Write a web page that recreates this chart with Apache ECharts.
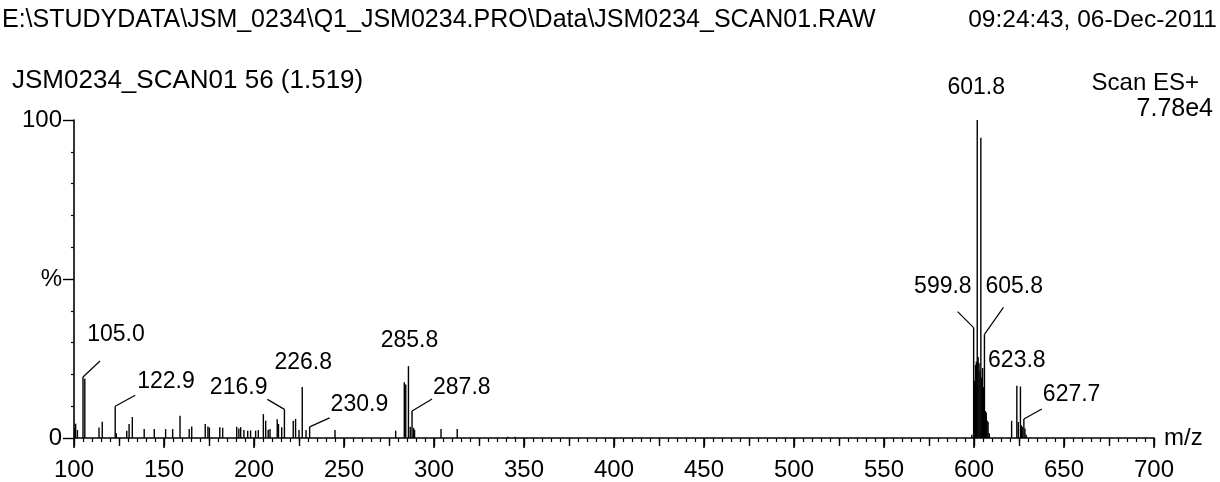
<!DOCTYPE html>
<html>
<head>
<meta charset="utf-8">
<style>
  html, body { margin: 0; padding: 0; background: #fff; }
  #chart { width: 1220px; height: 482px; }
</style>
<script src="https://cdn.jsdelivr.net/npm/echarts@6/dist/echarts.min.js"></script>
</head>
<body>
<div id="chart"></div>
<script>
// ---------- DATA ----------
const headerPath = 'E:\\STUDYDATA\\JSM_0234\\Q1_JSM0234.PRO\\Data\\JSM0234_SCAN01.RAW';
const headerDate = '09:24:43, 06-Dec-2011';
const scanTitle = 'JSM0234_SCAN01 56 (1.519)';
const scanMode = 'Scan ES+';
const scanIntensity = '7.78e4';
const xAxisName = 'm/z';

// m/z values of every stick and their relative intensity (%)
const peakMz = [
  100.4, 100.9, 101.9, 105.0, 106.0, 113.9, 115.7, 122.9, 123.5, 129.3,
  130.6, 132.4, 139.0, 144.6, 150.9, 154.8, 158.9, 164.0, 165.4, 172.9,
  174.4, 175.2, 181.0, 182.6, 190.4, 191.6, 192.6, 194.4, 196.5, 198.1,
  200.9, 202.4, 205.2, 206.5, 207.9, 208.9, 212.9, 213.6, 215.4, 216.9,
  221.8, 223.1, 225.0, 226.8, 228.9, 230.9, 245.0, 278.7, 283.5, 284.3,
  285.8, 286.8, 287.8, 288.6, 289.2, 303.9, 312.9, 341.0, 345.0,
  598.8, 599.8, 600.3, 600.8, 601.3, 601.8, 602.3, 602.8, 603.3, 603.8,
  604.3, 604.8, 605.3, 605.8, 606.3, 606.8, 607.3, 607.8, 608.5,
  620.9, 623.8, 624.6, 625.8, 626.3, 626.8, 627.7, 628.3, 629.0
];
const peakPct = [
  3.0, 4.5, 2.5, 19.2, 18.6, 3.3, 5.1, 10.0, 1.5, 2.3,
  4.4, 6.6, 2.8, 2.8, 2.8, 2.8, 7.0, 2.8, 3.6, 4.4,
  3.6, 3.3, 3.4, 3.2, 3.5, 3.0, 3.4, 2.5, 2.3, 2.4,
  2.3, 2.5, 7.5, 5.4, 2.6, 2.8, 5.9, 4.4, 3.4, 9.0,
  5.4, 6.0, 2.5, 16.0, 2.5, 3.5, 2.5, 2.3, 17.5, 16.8,
  22.6, 3.5, 8.5, 3.2, 2.6, 2.8, 2.8, 0.4, 0.4,
  1.0, 34.7, 18.0, 23.0, 24.0, 100, 25.5, 23.5, 21.0, 94.4,
  19.0, 22.0, 16.0, 32.6, 8.5, 8.0, 5.5, 5.0, 1.5,
  5.4, 16.4, 5.0, 16.2, 4.0, 3.5, 6.0, 3.0, 1.0
];

// annotated peaks (must be in peakMz)
const labelMz = [105.0, 122.9, 216.9, 226.8, 230.9, 285.8, 287.8, 601.8, 599.8, 605.8, 623.8, 627.7];

// x-axis ticks
const xMin = 100, xMax = 700, xStep = 50;
const yMin = 0, yMax = 100, yStep = 50;

// ---------- LAYOUT (pixel offsets of annotation text / leader end, relative to peak top) ----------
const labelLayout = [
  { align: 'center', dx: 33, dy: -31, leader: [17, -16] },   // 105.0
  { align: 'left',   dx: 22, dy: -13, leader: [20, -11] },   // 122.9
  { align: 'right',  dx: -17, dy: -10, leader: [-17, -10] }, // 216.9
  { align: 'center', dx: 1,  dy: -13, leader: null },        // 226.8
  { align: 'left',   dx: 21, dy: -11, leader: [20, -9] },    // 230.9
  { align: 'center', dx: 1,  dy: -14, leader: null },        // 285.8
  { align: 'left',   dx: 21, dy: -12, leader: [20, -12] },   // 287.8
  { align: 'center', dx: -1, dy: -21, leader: null },        // 601.8
  { align: 'right',  dx: -2, dy: -29, leader: [-16, -16] },  // 599.8
  { align: 'left',   dx: 1,  dy: -36, leader: [19, -27] },   // 605.8
  { align: 'center', dx: 0,  dy: -14, leader: null },        // 623.8
  { align: 'left',   dx: 19, dy: -13, leader: [18, -10] }    // 627.7
];

const FONT = '"Liberation Sans", Arial, Helvetica, sans-serif';
const INK = '#000';

const peakData = peakMz.map((m, i) => [m, peakPct[i]]);
const labelData = labelMz.map(m => [m, peakPct[peakMz.indexOf(m)]]);

const chart = echarts.init(document.getElementById('chart'), null, { renderer: 'canvas' });

const option = {
  backgroundColor: '#fff',
  animation: false,
  grid: { left: 74, right: 66, top: 120, bottom: 43, containLabel: false },
  xAxis: [
    {
      type: 'value', min: xMin, max: xMax, interval: xStep,
      name: xAxisName, nameLocation: 'end', nameGap: 10,
      nameTextStyle: { color: INK, fontSize: 24, fontFamily: FONT, padding: [10, 0, 0, 0] },
      axisLine: { show: true, onZero: false, lineStyle: { color: INK, width: 1.6 } },
      axisTick: { show: true, inside: false, length: 10, lineStyle: { color: INK, width: 1.6 } },
      minorTick: { show: true, splitNumber: 10, length: 4, lineStyle: { color: INK, width: 1.2 } },
      axisLabel: { color: INK, fontSize: 24, fontFamily: FONT, margin: 20 },
      splitLine: { show: false }
    },
    {
      type: 'value', min: xMin, max: xMax, interval: xStep / 2, position: 'bottom',
      axisLine: { show: false },
      axisTick: { show: true, inside: false, length: 8, lineStyle: { color: INK, width: 1.4 } },
      axisLabel: { show: false },
      splitLine: { show: false }
    }
  ],
  yAxis: {
    type: 'value', min: yMin, max: yMax, interval: yStep,
    axisLine: { show: true, lineStyle: { color: INK, width: 1.6 } },
    axisTick: { show: true, inside: false, length: 11, lineStyle: { color: INK, width: 1.4 } },
    minorTick: { show: true, splitNumber: 5, length: 3, lineStyle: { color: INK, width: 1.2 } },
    axisLabel: {
      color: INK, fontSize: 24, fontFamily: FONT, margin: 12,
      formatter: v => (v === 50 ? '%' : String(v))
    },
    splitLine: { show: false }
  },
  series: [
    {
      type: 'custom',
      xAxisIndex: 0,
      data: peakData,
      encode: { x: 0, y: 1 },
      renderItem: function (params, api) {
        const base = api.coord([api.value(0), 0]);
        const top = api.coord([api.value(0), api.value(1)]);
        return {
          type: 'line',
          shape: { x1: base[0], y1: base[1], x2: top[0], y2: top[1] },
          style: { stroke: INK, lineWidth: 1.4 }
        };
      }
    },
    {
      type: 'custom',
      xAxisIndex: 0,
      data: labelData,
      encode: { x: 0, y: 1 },
      z: 5,
      renderItem: function (params, api) {
        const p = api.coord([api.value(0), api.value(1)]);
        const L = labelLayout[params.dataIndex];
        const children = [{
          type: 'text',
          x: p[0] + L.dx, y: p[1] + L.dy,
          style: {
            text: labelMz[params.dataIndex].toFixed(1),
            fill: INK, fontSize: 23, fontFamily: FONT,
            align: L.align, verticalAlign: 'bottom',
            textAlign: L.align, textVerticalAlign: 'bottom'
          }
        }];
        if (L.leader) {
          children.push({
            type: 'line',
            shape: { x1: p[0], y1: p[1], x2: p[0] + L.leader[0], y2: p[1] + L.leader[1] },
            style: { stroke: INK, lineWidth: 1.2 }
          });
        }
        return { type: 'group', children: children };
      }
    }
  ],
  graphic: [
    { type: 'text', x: 2, y: 20, style: { text: headerPath, fill: INK, fontSize: 25, fontFamily: FONT, align: 'left', verticalAlign: 'middle', textAlign: 'left', textVerticalAlign: 'middle' } },
    { type: 'text', x: 1217, y: 20, style: { text: headerDate, fill: INK, fontSize: 24.5, fontFamily: FONT, align: 'right', verticalAlign: 'middle', textAlign: 'right', textVerticalAlign: 'middle' } },
    { type: 'text', x: 12, y: 81, style: { text: scanTitle, fill: INK, fontSize: 26, fontFamily: FONT, align: 'left', verticalAlign: 'middle', textAlign: 'left', textVerticalAlign: 'middle' } },
    { type: 'text', x: 1199, y: 83, style: { text: scanMode, fill: INK, fontSize: 24, fontFamily: FONT, align: 'right', verticalAlign: 'middle', textAlign: 'right', textVerticalAlign: 'middle' } },
    { type: 'text', x: 1213, y: 109, style: { text: scanIntensity, fill: INK, fontSize: 25, fontFamily: FONT, align: 'right', verticalAlign: 'middle', textAlign: 'right', textVerticalAlign: 'middle' } }
  ]
};

chart.setOption(option);
</script>
</body>
</html>
